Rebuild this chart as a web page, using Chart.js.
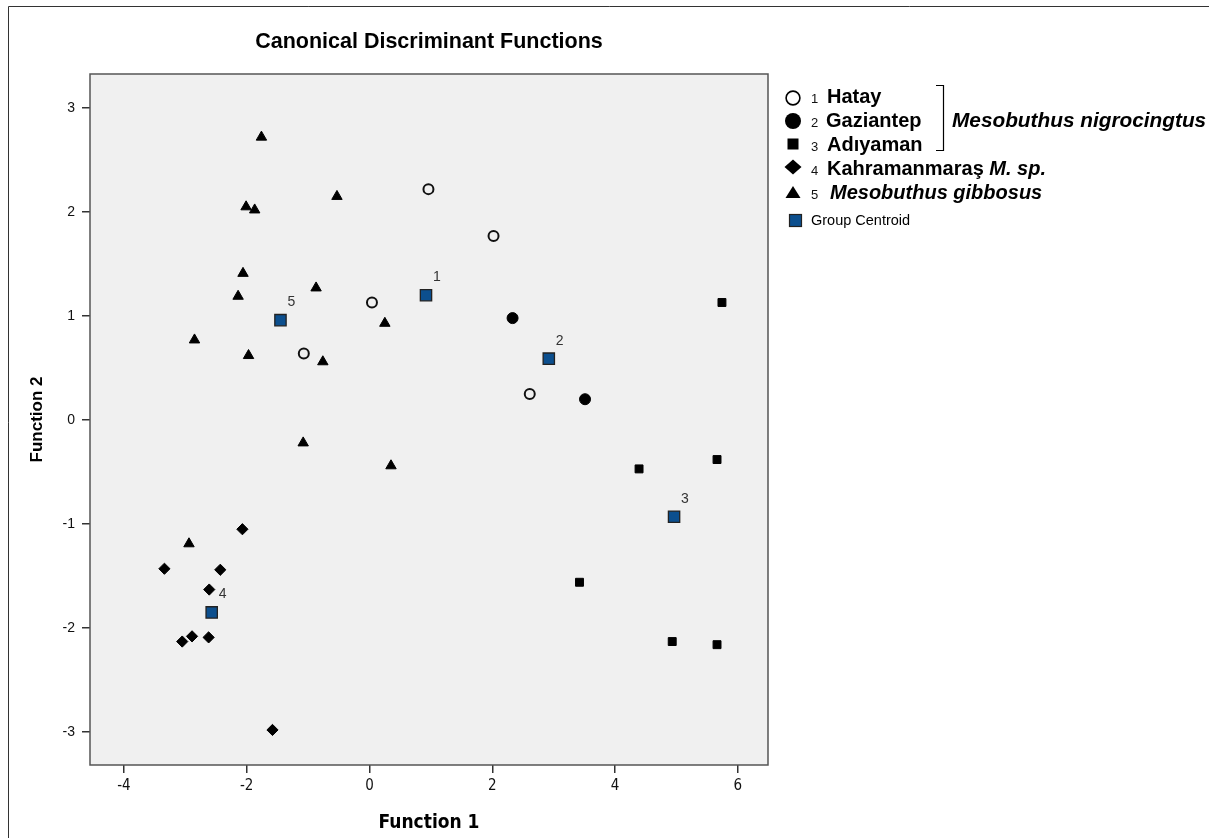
<!DOCTYPE html>
<html><head><meta charset="utf-8">
<script src="https://cdn.jsdelivr.net/npm/chart.js@4.4.1/dist/chart.umd.min.js"></script>
<style>html,body{margin:0;padding:0;background:#fff}canvas{display:block}</style>
</head><body>
<canvas id="c" width="1209" height="838"></canvas>
<script>
// ---- data ----
const hatayX = [0.96, 2.02, 0.04, -1.07, 2.61];
const hatayY = [2.22, 1.77, 1.13, 0.64, 0.25];
const gazX = [2.33, 3.51];
const gazY = [0.98, 0.20];
const adiX = [5.74, 5.66, 4.39, 3.42, 4.93, 5.66];
const adiY = [1.13, -0.38, -0.47, -1.56, -2.13, -2.16];
const kahX = [-2.07, -3.34, -2.43, -2.61, -2.89, -3.05, -2.62, -1.58];
const kahY = [-1.05, -1.43, -1.44, -1.63, -2.08, -2.13, -2.09, -2.98];
const gibX = [-1.76, -0.53, -2.01, -1.87, -2.06, -2.14, -0.87, -2.85, -1.97, -0.76, 0.25, -1.08, 0.35, -2.94];
const gibY = [2.72, 2.15, 2.05, 2.02, 1.41, 1.19, 1.27, 0.77, 0.62, 0.56, 0.93, -0.22, -0.44, -1.19];
const centroidX = [0.92, 2.92, 4.96, -2.57, -1.45];
const centroidY = [1.20, 0.59, -0.93, -1.85, 0.96];
const centroidLabels = ['1', '2', '3', '4', '5'];
const xTicks = [-4, -2, 0, 2, 4, 6];
const yTicks = [-3, -2, -1, 0, 1, 2, 3];
const groupNumbers = ['1', '2', '3', '4', '5'];
const groupNames = ['Hatay', 'Gaziantep', 'Adıyaman', 'Kahramanmaraş', 'Mesobuthus gibbosus'];
const speciesLabel = 'Mesobuthus nigrocingtus';
const centroidLegend = 'Group Centroid';
const chartTitle = 'Canonical Discriminant Functions';
const xTitle = 'Function 1';
const yTitle = 'Function 2';

const pts = (xs, ys) => xs.map((x, i) => ({x, y: ys[i]}));
const SANS = "'Liberation Sans', Arial, sans-serif";
const NARROW = "'Liberation Sans Narrow', 'DejaVu Sans Condensed', 'Liberation Sans', sans-serif";
const CENTROID_COLOR = '#0c4f8e';

const decor = {
  id: 'decor',
  beforeDraw(chart) {
    const {ctx, chartArea: a} = chart;
    ctx.save();
    ctx.fillStyle = '#fff';
    ctx.fillRect(0, 0, chart.width, chart.height);
    ctx.strokeStyle = '#333';
    ctx.lineWidth = 1;
    ctx.beginPath();
    ctx.moveTo(8.5, chart.height + 2); ctx.lineTo(8.5, 6.5); ctx.lineTo(chart.width + 2, 6.5);
    ctx.stroke();
    ctx.fillStyle = '#f0f0f0';
    ctx.fillRect(a.left, a.top, a.right - a.left, a.bottom - a.top);
    ctx.restore();
  },
  beforeDatasetsDraw(chart) {
    const {ctx, chartArea: a} = chart;
    ctx.save();
    ctx.strokeStyle = '#555';
    ctx.lineWidth = 1.5;
    ctx.strokeRect(a.left, a.top, a.right - a.left, a.bottom - a.top);
    // title
    ctx.fillStyle = '#000';
    ctx.font = 'bold 21.5px ' + SANS;
    ctx.textAlign = 'center';
    ctx.textBaseline = 'alphabetic';
    ctx.fillText(chartTitle, (a.left + a.right) / 2, 48);
    ctx.restore();
  },
  afterDatasetsDraw(chart) {
    const {ctx} = chart;
    const sx = chart.scales.x, sy = chart.scales.y;
    ctx.save();
    ctx.fillStyle = '#333';
    ctx.font = '14px ' + SANS;
    ctx.textAlign = 'left';
    ctx.textBaseline = 'middle';
    centroidLabels.forEach((t, i) => {
      ctx.fillText(t, sx.getPixelForValue(centroidX[i]) + 7, sy.getPixelForValue(centroidY[i]) - 18);
    });

    // legend
    const symX = 793;
    const base = [103, 127, 151, 175, 199];
    ctx.fillStyle = '#000';
    ctx.strokeStyle = '#000';
    ctx.textBaseline = 'alphabetic';
    let cy = base[0] - 5;
    ctx.lineWidth = 1.6;
    ctx.beginPath(); ctx.arc(symX, cy, 6.9, 0, Math.PI * 2); ctx.stroke();
    cy = base[1] - 6;
    ctx.beginPath(); ctx.arc(symX, cy, 8, 0, Math.PI * 2); ctx.fill();
    cy = base[2] - 7;
    ctx.fillRect(symX - 5.5, cy - 5.5, 11, 11);
    cy = base[3] - 8;
    ctx.beginPath(); ctx.moveTo(symX - 8.5, cy); ctx.lineTo(symX, cy - 7.5); ctx.lineTo(symX + 8.5, cy); ctx.lineTo(symX, cy + 7.5); ctx.closePath(); ctx.fill();
    cy = base[4] - 7;
    ctx.beginPath(); ctx.moveTo(symX - 7.5, cy + 6); ctx.lineTo(symX, cy - 6); ctx.lineTo(symX + 7.5, cy + 6); ctx.closePath(); ctx.fill();
    ctx.font = '13px ' + SANS;
    ctx.fillStyle = '#111';
    groupNumbers.forEach((n, i) => ctx.fillText(n, 811, base[i]));
    ctx.fillStyle = '#000';
    ctx.font = 'bold 20px ' + SANS;
    ctx.fillText(groupNames[0], 827, base[0]);
    ctx.fillText(groupNames[1], 826, base[1]);
    ctx.fillText(groupNames[2], 827, base[2]);
    ctx.fillText(groupNames[3], 827, base[3]);
    const w3 = ctx.measureText(groupNames[3] + ' ').width;
    ctx.font = 'italic bold 20px ' + SANS;
    ctx.fillText('M. sp.', 827 + w3, base[3]);
    ctx.fillText(groupNames[4], 830, base[4]);
    ctx.font = 'italic bold 20.8px ' + SANS;
    ctx.fillText(speciesLabel, 952, base[1]);
    ctx.lineWidth = 1.2;
    ctx.beginPath();
    ctx.moveTo(936, 85.5); ctx.lineTo(943.5, 85.5); ctx.lineTo(943.5, 150.5); ctx.lineTo(936, 150.5);
    ctx.stroke();
    ctx.fillStyle = CENTROID_COLOR;
    ctx.fillRect(789.5, 214.5, 12, 12);
    ctx.strokeStyle = '#222';
    ctx.lineWidth = 1.2;
    ctx.strokeRect(789.5, 214.5, 12, 12);
    ctx.fillStyle = '#000';
    ctx.font = '14.5px ' + SANS;
    ctx.fillText(centroidLegend, 811, 225);
    ctx.restore();
  }
};

const tickStyle = {color: '#333', lineWidth: 1.5, drawOnChartArea: false, drawTicks: true, tickLength: 8};

new Chart(document.getElementById('c'), {
  type: 'scatter',
  data: {
    datasets: [
      {label: '1 Hatay', data: pts(hatayX, hatayY), pointStyle: 'circle', pointRadius: 5, pointBorderWidth: 2, pointBorderColor: '#111', pointBackgroundColor: 'rgba(0,0,0,0)'},
      {label: '2 Gaziantep', data: pts(gazX, gazY), pointStyle: 'circle', pointRadius: 5.5, pointBorderWidth: 1, pointBorderColor: '#000', pointBackgroundColor: '#000'},
      {label: '3 Adıyaman', data: pts(adiX, adiY), pointStyle: 'rect', pointRadius: 5.6, pointBorderWidth: 1, pointBorderColor: '#000', pointBackgroundColor: '#000'},
      {label: '4 Kahramanmaraş M. sp.', data: pts(kahX, kahY), pointStyle: 'rectRot', pointRadius: 5.6, pointBorderWidth: 1, pointBorderColor: '#000', pointBackgroundColor: '#000'},
      {label: '5 Mesobuthus gibbosus', data: pts(gibX, gibY), pointStyle: 'triangle', pointRadius: 6, pointBorderWidth: 1, pointBorderColor: '#000', pointBackgroundColor: '#000'},
      {label: 'Group Centroid', data: pts(centroidX, centroidY), pointStyle: 'rect', pointRadius: 8, pointBorderWidth: 1.3, pointBorderColor: '#222', pointBackgroundColor: CENTROID_COLOR}
    ]
  },
  options: {
    responsive: false,
    animation: false,
    events: [],
    layout: {padding: {left: 8, top: 74, right: 441, bottom: 0}},
    plugins: {legend: {display: false}, tooltip: {enabled: false}, title: {display: false}},
    scales: {
      x: {
        type: 'linear', min: -4.552, max: 6.49,
        afterFit(s) { s.height = 73; },
        afterBuildTicks(s) { s.ticks = xTicks.map(v => ({value: v})); },
        grid: tickStyle,
        border: {display: false},
        ticks: {color: '#111', padding: 4, font: {family: NARROW, size: 15}, maxRotation: 0},
        title: {display: true, text: xTitle, color: '#000', font: {family: NARROW, size: 19, weight: 'bold'}, padding: {top: 4, bottom: 4}}
      },
      y: {
        type: 'linear', min: -3.317, max: 3.327,
        afterFit(s) { s.width = 82; },
        afterBuildTicks(s) { s.ticks = yTicks.map(v => ({value: v})); },
        grid: tickStyle,
        border: {display: false},
        ticks: {color: '#111', padding: 7, font: {family: SANS, size: 14}},
        title: {display: true, text: yTitle, color: '#000', font: {family: SANS, size: 17, weight: 'bold'}, padding: {top: 19, bottom: 4}}
      }
    }
  },
  plugins: [decor]
});
</script>
</body></html>
